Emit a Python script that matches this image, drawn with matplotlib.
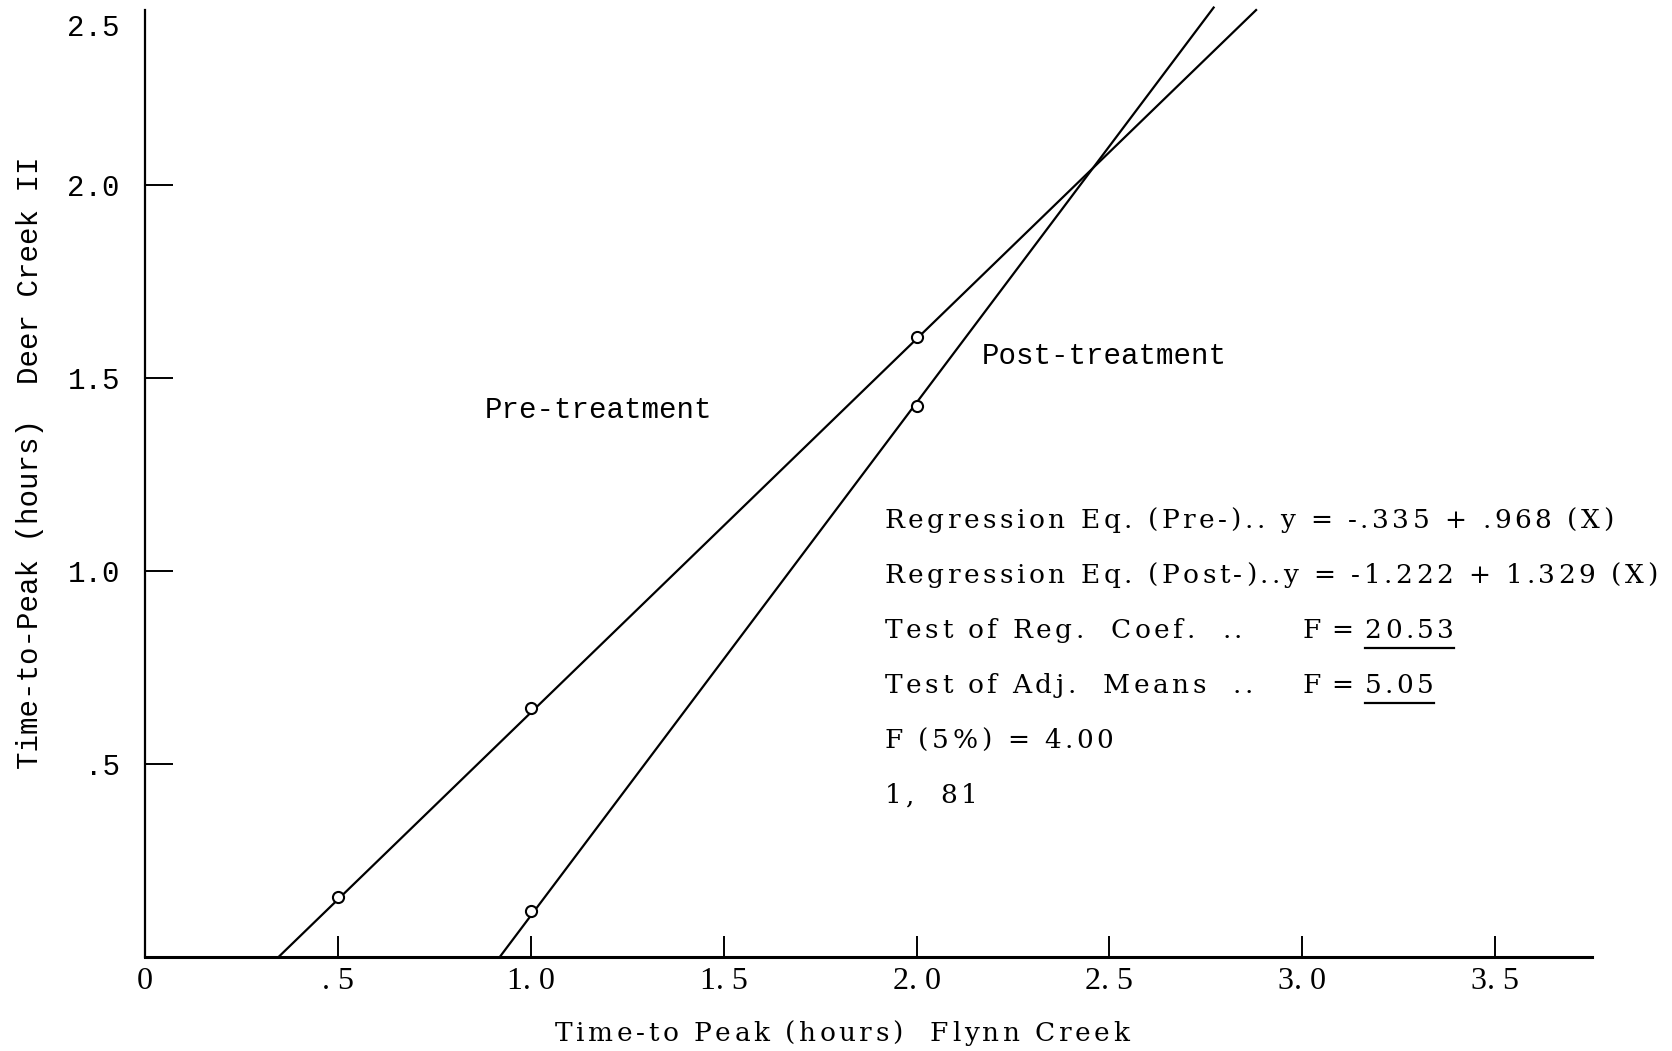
import matplotlib
matplotlib.use("Agg")
import matplotlib.pyplot as plt
from matplotlib.lines import Line2D
from matplotlib.font_manager import FontProperties
from matplotlib.transforms import offset_copy

# regression fits (intercept, slope) and the span each fitted line is drawn over
pre_coef = [-0.335, 0.968]
post_coef = [-1.222, 1.329]
pre_span = [0.346, 2.88]
post_span = [0.92, 2.77]

# plotted class means
pre_x = [0.5, 1.0, 2.0]
pre_y = [0.155, 0.645, 1.606]
post_x = [1.0, 2.0]
post_y = [0.12, 1.427]

xticks = [0, 0.5, 1.0, 1.5, 2.0, 2.5, 3.0, 3.5]
xlabels = ["0", ". 5", "1. 0", "1. 5", "2. 0", "2. 5", "3. 0", "3. 5"]
yticks = [0.5, 1.0, 1.5, 2.0, 2.415]
ylabels = [".5", "1.0", "1.5", "2.0", "2.5"]

stats_left = ["Regression Eq. (Pre-).. y = -.335 + .968 (X)",
              "Regression Eq. (Post-)..y = -1.222 + 1.329 (X)",
              "Test of Reg.  Coef.  ..",
              "Test of Adj.  Means  ..",
              "F (5%) = 4.00",
              "1,  81"]
f_values = ["20.53", "5.05"]

mono = "Liberation Mono"
serif = "DejaVu Serif"
size = 19
track = 3.5   # extra pixels between letters, typewriter look

fig = plt.figure(figsize=(16.72, 10.51), dpi=100)
ax = fig.add_axes([0.0867, 0.0894, 0.8653, 0.9011])
ax.set_xlim(0, 3.75)
ax.set_ylim(0, 2.453)
renderer = fig.canvas.get_renderer()
fp = FontProperties(family=serif, size=size)


def advances(s):
    base = renderer.get_text_width_height_descent("ii", fp, ismath=False)[0]
    return [renderer.get_text_width_height_descent("i" + c + "i", fp, ismath=False)[0] - base
            for c in s]


def spaced_text(x, y, s, transform, center=False, dx=0, tr=track):
    ws = advances(s)
    total = sum(ws) + tr * (len(s) - 1)
    pos = (-total / 2 if center else 0) + dx
    start = pos
    for c, w in zip(s, ws):
        if c != " ":
            fig.text(x, y, c, fontproperties=fp, va="baseline", ha="left",
                     transform=offset_copy(transform, fig=fig, x=pos, y=0, units="dots"))
        pos += w + tr
    return start, total


for (b0, b1), span in [(pre_coef, pre_span), (post_coef, post_span)]:
    ys = [b0 + b1 * x for x in span]
    ax.plot(span, ys, color="black", lw=1.6, clip_on=False)

ax.plot(pre_x, pre_y, "o", mfc="white", mec="black", ms=8, mew=1.5, zorder=3)
ax.plot(post_x, post_y, "o", mfc="white", mec="black", ms=8, mew=1.5, zorder=3)

for s in ["top", "right"]:
    ax.spines[s].set_visible(False)
ax.spines["left"].set_linewidth(1.6)
ax.spines["bottom"].set_linewidth(2.2)

ax.set_xticks(xticks)
ax.set_xticklabels(xlabels, fontfamily="Liberation Serif", fontsize=23)
ax.set_yticks(yticks)
ax.set_yticklabels(ylabels, fontfamily=mono, fontsize=21)
ax.tick_params(axis="x", direction="in", length=15, width=1.4, pad=7)
ax.tick_params(axis="y", direction="in", length=20, width=1.4, pad=18)
ax.xaxis.get_major_ticks()[0].tick1line.set_visible(False)
ax.yaxis.get_major_ticks()[-1].tick1line.set_visible(False)

ax.set_ylabel("Time-to-Peak (hours)  Deer Creek II", fontfamily=mono, fontsize=21)
ax.yaxis.set_label_coords(-0.07, 0.522)

# x axis title, letter-spaced
spaced_text(0.5036, 0.0095, "Time-to Peak (hours)  Flynn Creek", fig.transFigure, center=True)

ax.text(0.88, 1.417, "Pre-treatment", fontfamily=mono, fontsize=21,
        va="center", ha="left")
ax.text(2.17, 1.557, "Post-treatment", fontfamily=mono, fontsize=21,
        va="center", ha="left")

# statistics block
y0, dy = 1.111, 0.1425
for i, s in enumerate(stats_left):
    spaced_text(1.917, y0 - i * dy, s, ax.transData)

for i, v in enumerate(f_values):
    yb = y0 - (i + 2) * dy
    s0, w0 = spaced_text(3.0, yb, "F = ", ax.transData, tr=1)
    start, total = spaced_text(3.0, yb, v, ax.transData, dx=s0 + w0 + 2)
    px, py = ax.transData.transform((3.0, yb))
    fig.add_artist(Line2D([px + start, px + start + total], [py - 10, py - 10],
                          color="black", lw=1.6, transform=None))

fig.savefig("out.png", dpi=100)
